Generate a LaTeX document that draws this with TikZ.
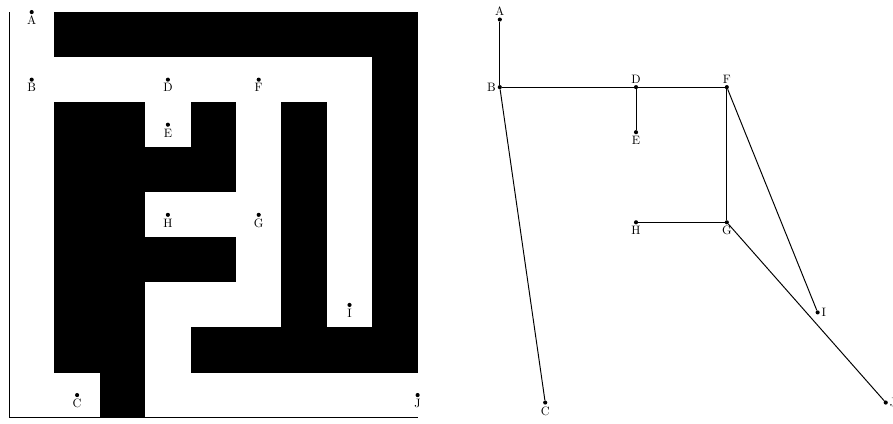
\documentclass[tikz,border=0pt]{standalone}
\usepackage{tikz}
\usetikzlibrary{positioning}

\begin{document}
\begin{tikzpicture}[
        x=1.31cm, y=1.3cm,
        ponto/.style={circle, fill=black, inner sep=0pt, minimum size=3.4pt},
        rotulo/.style={inner sep=1.2pt},
        aresta/.style={thick}
    ]
        \useasboundingbox (-0.198,-0.133) rectangle (19.47,9.268);
        % Labirinto (casas pretas)
        \fill[black] (1,8) rectangle (9,9);
        \fill[black] (8,1) rectangle (9,8);
        \fill[black] (1,1) rectangle (3,7);
        \fill[black] (2,0) rectangle (3,1);
        \fill[black] (3,5) rectangle (5,6); \fill[black] (4,6) rectangle (5,7);
        \fill[black] (3,3) rectangle (5,4);
        \fill[black] (6,1) rectangle (7,7);
        \fill[black] (4,1) rectangle (8,2);
        % Eixos
        \coordinate (ey) at (0,9);
        \coordinate (o) at (0,0);
        \coordinate (ex) at (9,0);
        \draw[aresta] (ey) -- (o) -- (ex);
        % Pontos no labirinto
        \node[ponto, label={[rotulo]below:A}] (la) at (0.5,9) {};
        \node[ponto, label={[rotulo]below:B}] (lb) at (0.5,7.5) {};
        \node[ponto, label={[rotulo]below:C}] (lc) at (1.5,0.5) {};
        \node[ponto, label={[rotulo]below:D}] (ld) at (3.5,7.5) {};
        \node[ponto, label={[rotulo]below:E}] (le) at (3.5,6.5) {};
        \node[ponto, label={[rotulo]below:F}] (lf) at (5.5,7.5) {};
        \node[ponto, label={[rotulo]below:G}] (lg) at (5.5,4.5) {};
        \node[ponto, label={[rotulo]below:H}] (lh) at (3.5,4.5) {};
        \node[ponto, label={[rotulo]below:I}] (li) at (7.5,2.5) {};
        \node[ponto, label={[rotulo]below:J}] (lj) at (9,0.5) {};
        % Grafo
        \begin{scope}[shift={(10.31,-0.166)}]
            \node[ponto, label={[rotulo]above:A}] (ga) at (0.5,9) {};
            \node[ponto, label={[rotulo]left:B}] (gb) at (0.5,7.5) {};
            \node[ponto, label={[rotulo]below:C}] (gc) at (1.5,0.5) {};
            \node[ponto, label={[rotulo]above:D}] (gd) at (3.5,7.5) {};
            \node[ponto, label={[rotulo]below:E}] (ge) at (3.5,6.5) {};
            \node[ponto, label={[rotulo]above:F}] (gf) at (5.5,7.5) {};
            \node[ponto, label={[rotulo]below:G}] (gg) at (5.5,4.5) {};
            \node[ponto, label={[rotulo]below:H}] (gh) at (3.5,4.5) {};
            \node[ponto, label={[rotulo]right:I}] (gi) at (7.5,2.5) {};
            \node[ponto, label={[rotulo]right:J}] (gj) at (9,0.5) {};
        \end{scope}
        \draw[aresta] (ga) -- (gb); \draw[aresta] (gb) -- (gd);
        \draw[aresta] (gd) -- (gf); \draw[aresta] (gd) -- (ge);
        \draw[aresta] (gb) -- (gc); \draw[aresta] (gf) -- (gg);
        \draw[aresta] (gf) -- (gi); \draw[aresta] (gh) -- (gg);
        \draw[aresta] (gg) -- (gj);
\end{tikzpicture}
\end{document}
